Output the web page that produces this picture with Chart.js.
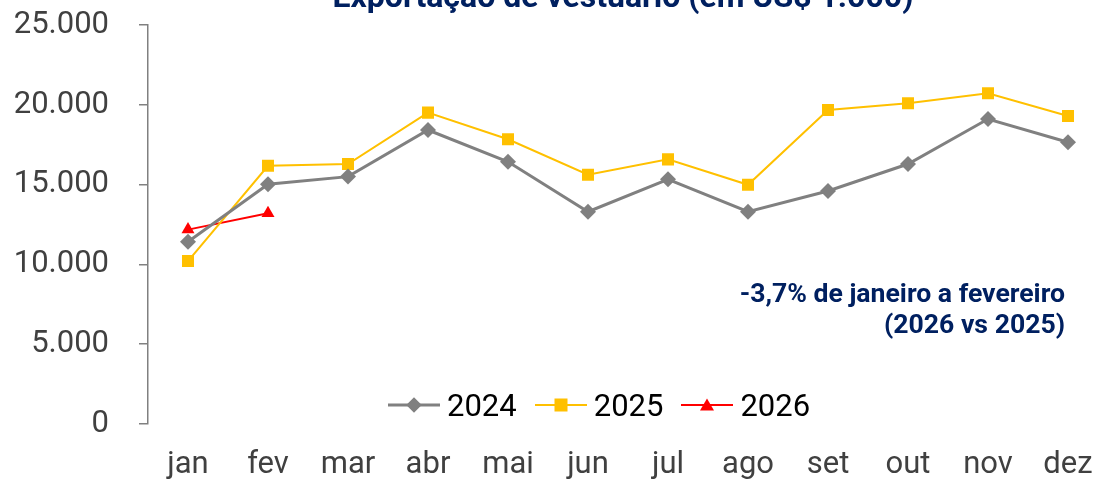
<!DOCTYPE html>
<html>
<head>
<meta charset="utf-8">
<script src="https://cdn.jsdelivr.net/npm/chart.js@4.4.1/dist/chart.umd.min.js"></script>
<style>
  html, body { margin: 0; padding: 0; background: #fff; overflow: hidden; width: 1097px; height: 480px; }
  #wrap { position: absolute; left: 0; top: 0; width: 1130px; height: 480px; }
  #title { position: absolute; top: -22px; left: 0; width: 1246px; text-align: center; font: bold 32px/37px Roboto, sans-serif; color: #002060; white-space: nowrap; }
  #note { position: absolute; right: 65px; top: 277px; text-align: right; font: bold 26.6px/31px Roboto, sans-serif; color: #002060; }
  #legend { position: absolute; top: 386px; left: 388px; height: 38px; display: flex; align-items: center; font: 31px Roboto, sans-serif; color: #000; }
  .item { display: flex; align-items: center; margin-right: 18px; }
  .sym { position: relative; width: 52px; height: 20px; margin-right: 7px; }
  .ln { position: absolute; left: 0; right: 0; top: 50%; transform: translateY(-50%); }
  .mk { position: absolute; left: 50%; top: 50%; }
</style>
</head>
<body>
<div id="wrap">
  <canvas id="c" width="1130" height="480"></canvas>
  <div id="title">Exportação de vestuário (em US$ 1.000)</div>
  <div id="note">-3,7% de janeiro a fevereiro<br>(2026 vs 2025)</div>
  <div id="legend"></div>
</div>
<script>
const categories = ["jan","fev","mar","abr","mai","jun","jul","ago","set","out","nov","dez"];
const s2024 = [11420, 15020, 15500, 18420, 16430, 13300, 15330, 13300, 14600, 16290, 19110, 17650];
const s2025 = [10210, 16180, 16290, 19510, 17840, 15620, 16580, 14990, 19670, 20090, 20720, 19300];
const s2026 = [12180, 13200, null, null, null, null, null, null, null, null, null, null];
const yTicks = [0, 5000, 10000, 15000, 20000, 25000];
const yTickLabels = ["0", "5.000", "10.000", "15.000", "20.000", "25.000"];
const seriesNames = ["2024", "2025", "2026"];
const seriesColors = ["#808080", "#FFC000", "#FF0000"];

const ctx = document.getElementById('c');
new Chart(ctx, {
  type: 'line',
  data: {
    labels: categories,
    datasets: [
      { label: seriesNames[0], data: s2024, borderColor: seriesColors[0], backgroundColor: seriesColors[0], borderWidth: 3, pointStyle: 'rectRot', pointRadius: 8, pointHoverRadius: 8, pointBorderWidth: 0 },
      { label: seriesNames[1], data: s2025, borderColor: seriesColors[1], backgroundColor: seriesColors[1], borderWidth: 2, pointStyle: 'rect', pointRadius: 8.5, pointHoverRadius: 8.5, pointBorderWidth: 0 },
      { label: seriesNames[2], data: s2026, borderColor: seriesColors[2], backgroundColor: seriesColors[2], borderWidth: 2, pointStyle: 'triangle', pointRadius: 7.5, pointHoverRadius: 7.5, pointBorderWidth: 0, spanGaps: false }
    ]
  },
  options: {
    responsive: false,
    animation: false,
    layout: { padding: { left: 0, right: 22, top: 25, bottom: 0 } },
    plugins: { legend: { display: false }, tooltip: { enabled: false }, title: { display: false } },
    scales: {
      x: {
        offset: true,
        afterFit: (s) => { s.height = 56; s.paddingTop = 0; s.paddingBottom = 0; },
        grid: { display: false, drawTicks: false },
        border: { display: false },
        ticks: { color: '#404040', font: { family: 'Roboto', size: 31, lineHeight: 1 }, padding: 26, maxRotation: 0, autoSkip: false }
      },
      y: {
        min: 0, max: 25000,
        afterBuildTicks: (s) => { s.ticks = yTicks.map(v => ({ value: v })); },
        afterFit: (s) => { s.width = 148; s.paddingTop = 0; s.paddingBottom = 0; },
        grid: { drawOnChartArea: false, drawTicks: true, tickLength: 9, color: '#808080', lineWidth: 1.5 },
        border: { display: true, color: '#808080', width: 1.5 },
        ticks: {
          color: '#404040', font: { family: 'Roboto', size: 31, lineHeight: 1 }, padding: 30,
          callback: (v) => { const i = yTicks.indexOf(v); return i >= 0 ? yTickLabels[i] : ''; }
        }
      }
    }
  }
});

// HTML legend with line + marker
const legend = document.getElementById('legend');
const markerCss = [
  'width:11px;height:11px;background:#808080;transform:translate(-50%,-50%) rotate(45deg);',
  'width:13px;height:13px;background:#FFC000;transform:translate(-50%,-50%);',
  'width:0;height:0;border-left:7px solid transparent;border-right:7px solid transparent;border-bottom:12px solid #FF0000;transform:translate(-50%,-55%);'
];
const lineW = [3, 2, 2];
seriesNames.forEach((n, i) => {
  const it = document.createElement('div');
  it.className = 'item';
  it.innerHTML = '<div class="sym"><div class="ln" style="height:' + lineW[i] + 'px;background:' + seriesColors[i] + '"></div><div class="mk" style="' + markerCss[i] + '"></div></div><span>' + n + '</span>';
  legend.appendChild(it);
});
</script>
</body>
</html>
